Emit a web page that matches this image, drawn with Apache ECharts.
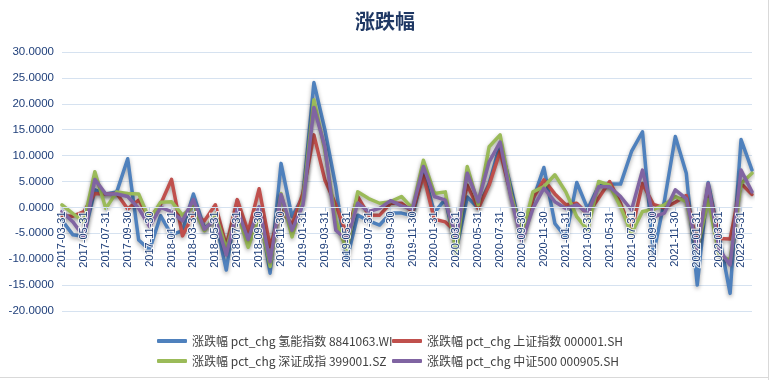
<!DOCTYPE html>
<html>
<head>
<meta charset="utf-8">
<script src="https://cdn.jsdelivr.net/npm/echarts@6/dist/echarts.min.js"></script>
<style>html,body{margin:0;padding:0;background:#fff}#c{width:770px;height:380px}</style>
</head>
<body>
<div id="c"></div>
<script>
const categories = [
'2017-03-31','2017-04-30','2017-05-31','2017-06-30','2017-07-31','2017-08-31','2017-09-30','2017-10-31','2017-11-30','2017-12-31',
'2018-01-31','2018-02-28','2018-03-31','2018-04-30','2018-05-31','2018-06-30','2018-07-31','2018-08-31','2018-09-30','2018-10-31','2018-11-30','2018-12-31',
'2019-01-31','2019-02-28','2019-03-31','2019-04-30','2019-05-31','2019-06-30','2019-07-31','2019-08-31','2019-09-30','2019-10-31','2019-11-30','2019-12-31',
'2020-01-31','2020-02-29','2020-03-31','2020-04-30','2020-05-31','2020-06-30','2020-07-31','2020-08-31','2020-09-30','2020-10-31','2020-11-30','2020-12-31',
'2021-01-31','2021-02-28','2021-03-31','2021-04-30','2021-05-31','2021-06-30','2021-07-31','2021-08-31','2021-09-30','2021-10-31','2021-11-30','2021-12-31',
'2022-01-31','2022-02-28','2022-03-31','2022-04-30','2022-05-31','2022-06-30'];

const seriesNames = [
'涨跌幅 pct_chg 氢能指数 8841063.WI',
'涨跌幅 pct_chg 上证指数 000001.SH',
'涨跌幅 pct_chg 深证成指 399001.SZ',
'涨跌幅 pct_chg 中证500 000905.SH'];

const hydrogen = [-2.5,-5.3,-5.6,3.4,2.6,3.0,9.4,-6.3,-8.2,-1.6,
-5.3,-4.5,2.6,-4.0,-2.4,-12.1,1.4,-6.9,0.0,-12.7,8.5,-1.8,
2.1,24.1,15.0,4.0,-10.2,-1.5,-2.6,-3.4,-1.1,-1.1,-1.6,6.8,
-1.0,1.6,-8.3,2.0,-0.1,4.6,12.2,3.8,-5.5,1.5,7.7,-3.1,
-5.8,4.8,-0.3,4.2,4.5,4.5,10.8,14.6,-9.0,1.2,13.7,6.6,
-15.0,4.8,-5.5,-16.6,13.1,7.2];

const shanghai = [-1.6,-1.7,-0.8,2.7,2.6,2.7,-0.3,1.4,-2.0,0.6,
5.4,-5.5,-1.3,-2.6,0.5,-7.4,1.5,-4.7,3.6,-7.6,-0.5,-3.3,
2.7,14.0,5.3,0.5,-5.2,2.1,-1.5,-1.5,0.8,0.8,-0.8,6.1,
-2.3,-2.8,-4.8,4.3,-0.2,4.3,10.8,2.4,-6.0,1.8,5.3,2.6,
0.5,0.8,-1.3,1.8,5.0,0.8,-4.7,4.6,0.6,-0.1,1.0,2.3,
-7.2,4.0,-6.0,-6.1,4.6,2.5];

const shenzhen = [0.5,-1.2,-2.8,6.9,-0.2,3.0,2.7,2.6,-2.4,1.0,
1.1,-1.5,0.2,-4.5,-1.3,-8.0,-0.8,-7.7,-1.5,-11.4,2.7,-5.7,
1.5,20.8,11.0,-2.5,-8.2,3.0,1.7,0.8,1.1,2.1,-0.2,9.1,
2.7,3.0,-8.9,7.9,0.5,11.7,14.0,2.6,-5.5,3.0,4.0,6.3,
3.0,-1.8,-4.4,5.0,4.3,0.1,-5.0,-0.8,-0.4,0.5,2.1,1.1,
-8.0,1.5,-9.2,-10.2,4.6,6.6];

const csi500 = [-0.8,-2.8,-5.7,5.4,2.6,2.6,2.1,-0.2,-3.7,0.0,
-0.8,-2.6,1.5,-4.2,-2.1,-9.2,-0.3,-6.2,0.1,-10.5,2.5,-4.4,
0.5,19.3,11.7,-4.4,-6.3,0.8,-0.8,-0.2,1.3,0.3,-0.3,7.9,
2.1,1.4,-6.0,6.6,1.1,8.8,12.6,1.8,-6.5,-0.2,3.7,1.1,
-0.2,0.5,-1.1,4.0,4.0,2.1,-0.5,7.2,-1.8,-1.1,3.4,1.7,
-8.0,4.6,-8.2,-11.1,7.2,3.0];

const colors = ['#4F81BD','#C0504D','#9BBB59','#8064A2'];
const allData = [hydrogen, shanghai, shenzhen, csi500];

const yMin = -20, yMax = 30;
const gridTop = 52, gridBottom = 69, chartH = 380;

const chart = echarts.init(document.getElementById('c'), null, {renderer:'canvas'});

// place the category axis on the zero line (offset from grid bottom)
const plotH = chartH - gridTop - gridBottom;
const zeroOffset = -plotH * (0 - yMin) / (yMax - yMin);

const legendPos = [[152,330],[387,330],[152,350],[387,350]];
const legends = seriesNames.map((n,i)=>({
  data:[n], left:legendPos[i][0], top:legendPos[i][1],
  icon:'roundRect', itemWidth:30, itemHeight:4, itemGap:4,
  textStyle:{fontSize:12, color:'#404040', fontFamily:'Noto Sans CJK SC, Noto Sans, sans-serif', padding:[0,0,0,0]},
  selectedMode:false
}));

chart.setOption({
  animation:false,
  color:colors,
  title:{text:'涨跌幅', left:'center', top:6,
    textStyle:{fontSize:20, fontWeight:'bold', color:'#1F3864', fontFamily:'Noto Sans CJK SC, sans-serif'}},
  legend:legends,
  grid:{left:62, right:18, top:gridTop, bottom:gridBottom, containLabel:false},
  xAxis:{
    type:'category', data:categories, boundaryGap:false, z:5,
    position:'bottom', offset:zeroOffset,
    axisLine:{show:true, onZero:false, lineStyle:{color:'#d6e2f0', width:1}},
    axisTick:{show:true, interval:1, length:4, inside:false, lineStyle:{color:'#b9cbe3'}},
    axisLabel:{interval:1, rotate:90, margin:4, fontSize:11, color:'#1F3F7A',
      fontFamily:'Liberation Sans, Arial, sans-serif',
      textBorderColor:'rgba(255,255,255,0.85)', textBorderWidth:2},
    splitLine:{show:false}
  },
  yAxis:{
    type:'value', min:yMin, max:yMax, interval:5,
    axisLine:{show:false}, axisTick:{show:false},
    axisLabel:{fontSize:11.5, color:'#1F3F7A', margin:8, fontFamily:'Liberation Sans, Arial, sans-serif',
      formatter:v=>v.toFixed(4)},
    splitLine:{lineStyle:{color:'#d6e2f0', width:1}}
  },
  graphic:[
    {type:'line', shape:{x1:768.5,y1:0,x2:768.5,y2:380}, style:{stroke:'#d9d9d9', lineWidth:1}, silent:true},
    {type:'line', shape:{x1:0,y1:377.5,x2:768,y2:377.5}, style:{stroke:'#d9d9d9', lineWidth:1}, silent:true}
  ],
  series:allData.map((d,i)=>({
    name:seriesNames[i], type:'line', data:d, showSymbol:false, symbol:'none',
    lineStyle:{width:3.5, color:colors[i], shadowColor:'rgba(0,0,0,0.35)', shadowBlur:4, shadowOffsetY:2, cap:'round', join:'round'},
    itemStyle:{color:colors[i]}
  }))
});
</script>
</body>
</html>
